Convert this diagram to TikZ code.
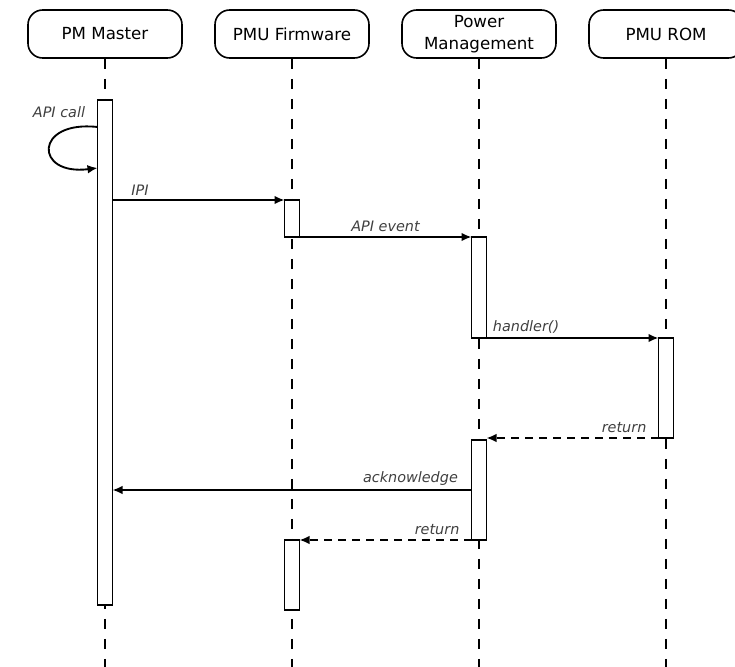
\documentclass[tikz,border=0pt]{standalone}
\usepackage{fontspec}
\setmainfont{DejaVu Sans}
\usetikzlibrary{positioning,arrows.meta,calc}
\tikzset{
  headbox/.style={draw, rounded corners=11pt, line width=1.2pt, minimum width=115.5pt, minimum height=36pt, align=center, font=\fontsize{12.5}{17}\selectfont},
  actbar/.style={draw, fill=white, line width=1.4pt, minimum width=11.25pt, inner sep=0pt, outer sep=0pt, anchor=north},
  lifeline/.style={line width=1.4pt, dash pattern=on 8pt off 7pt},
  msgarrow/.style={-{Latex[length=7.5pt, width=6.5pt]}, line width=1.4pt},
  retarrow/.style={msgarrow, dash pattern=on 6pt off 4.5pt},
  msglabel/.style={font=\itshape\fontsize{10.8}{13}\selectfont, text=black!75, inner sep=3pt}
}

\begin{document}
\begin{tikzpicture}[x=0.75pt, y=-0.75pt]
  \useasboundingbox (0,0) rectangle (735,667);
  % participants
  \node[headbox] (pmhead) at (105,34) {PM Master};
  \node[headbox] (fwhead) at (292,34) {PMU Firmware};
  \node[headbox] (pwhead) at (479,34) {Power\\Management};
  \node[headbox] (romhead) at (666,34) {PMU ROM};
  % lifelines
  \coordinate (pmend) at (105,667);
  \coordinate (fwend) at (292,667);
  \coordinate (pwend) at (479,667);
  \coordinate (romend) at (666,667);
  \draw[lifeline] (pmhead) -- (pmend);
  \draw[lifeline] (fwhead) -- (fwend);
  \draw[lifeline] (pwhead) -- (pwend);
  \draw[lifeline] (romhead) -- (romend);
  % activations
  \node[actbar, minimum height=378.75pt] (pmbar) at (105,100) {};
  \node[actbar, minimum height=27.75pt] (fwbar1) at (292,200) {};
  \node[actbar, minimum height=75.75pt] (pwbar1) at (479,237) {};
  \node[actbar, minimum height=75pt] (rombar) at (666,338) {};
  \node[actbar, minimum height=75pt] (pwbar2) at (479,440) {};
  \node[actbar, minimum height=52.5pt] (fwbar2) at (292,540) {};
  % messages
  \draw[msgarrow] ($(pmbar.north west)+(0,27)$) .. controls (34,120) and (34,176) .. ($(pmbar.north west)+(0,68)$);
  \node[msglabel] (calllbl) at (59,112) {API call};
  \draw[msgarrow] (pmbar.east |- fwbar1.north) -- node[msglabel, pos=0.16, above] (ipilbl) {IPI} (fwbar1.north west);
  \draw[msgarrow] (fwbar1.south east) -- node[msglabel, pos=0.5, above] (evtlbl) {API event} (pwbar1.north west);
  \draw[msgarrow] (pwbar1.south east) -- node[msglabel, pos=0.23, above] (hndlbl) {handler()} (rombar.north west);
  \draw[retarrow] (rombar.south west) -- node[msglabel, pos=0.2, above] (ret1lbl) {return} (pwbar2.east |- rombar.south);
  \draw[msgarrow] (pwbar2.west) -- node[msglabel, pos=0.17, above] (acklbl) {acknowledge} (pmbar.east |- pwbar2.west);
  \draw[retarrow] (pwbar2.south west) -- node[msglabel, pos=0.2, above] (ret2lbl) {return} (fwbar2.north east);
\end{tikzpicture}
\end{document}
